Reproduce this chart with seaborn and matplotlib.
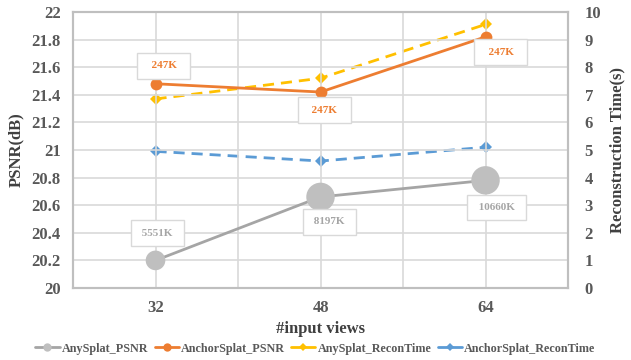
import pandas as pd
import numpy as np
import matplotlib
matplotlib.use("Agg")
import matplotlib.pyplot as plt
from matplotlib.lines import Line2D
import seaborn as sns

# Data
views = ["32", "48", "64"]
anysplat_psnr = [20.20, 20.66, 20.78]
anchorsplat_psnr = [21.48, 21.42, 21.82]
anysplat_time = [6.85, 7.6, 9.55]
anchorsplat_time = [4.95, 4.6, 5.1]
anysplat_gauss = ["5551K", "8197K", "10660K"]
anchorsplat_gauss = ["247K", "247K", "247K"]

GRAY = "#A5A5A5"
ORANGE = "#ED7D31"
YELLOW = "#FFC000"
BLUE = "#5B9BD5"
TXT = "#595959"

sns.set_style("white")
plt.rcParams["font.family"] = ["Liberation Serif", "DejaVu Serif"]
plt.rcParams["font.weight"] = "bold"

df = pd.DataFrame({
    "pos": np.arange(len(views)),
    "views": views,
    "AnySplat_PSNR": anysplat_psnr,
    "AnchorSplat_PSNR": anchorsplat_psnr,
    "AnySplat_ReconTime": anysplat_time,
    "AnchorSplat_ReconTime": anchorsplat_time,
})

fig = plt.figure(figsize=(6.31, 3.6), dpi=100)
ax = fig.add_axes([0.1157, 0.2, 0.7845, 0.7667])
ax2 = ax.twinx()

# right axis (recon time) drawn first, beneath the PSNR lines
sns.lineplot(data=df, x="pos", y="AnySplat_ReconTime", ax=ax2, color=YELLOW,
             lw=2, marker="D", markersize=6, markeredgewidth=0,
             linestyle=(0, (4, 2.5)))
sns.lineplot(data=df, x="pos", y="AnchorSplat_ReconTime", ax=ax2, color=BLUE,
             lw=2, marker="D", markersize=6, markeredgewidth=0,
             linestyle=(0, (4, 2.5)))
ax2.set_ylim(0, 10)
ax2.set_yticks(range(0, 11))
ax2.set_ylabel("Reconstruction Time(s)", fontsize=12, fontweight="bold",
               color="#404040", labelpad=6)
ax2.tick_params(axis="y", labelsize=12, colors=TXT, length=0, pad=12)
for lab in ax2.get_yticklabels():
    lab.set_fontweight("bold")

# left axis (PSNR) on top
ax.set_zorder(ax2.get_zorder() + 1)
ax.patch.set_visible(False)
sns.lineplot(data=df, x="pos", y="AnySplat_PSNR", ax=ax, color=GRAY, lw=2)
sns.scatterplot(data=df, x="pos", y="AnySplat_PSNR", ax=ax, color="#BFBFBF",
                s=[200, 420, 420], linewidth=0, zorder=5)
sns.lineplot(data=df, x="pos", y="AnchorSplat_PSNR", ax=ax, color=ORANGE, lw=2,
             marker="o", markersize=8.5, markeredgewidth=0)

ax.set_xlim(-0.5, 2.5)
ax.set_ylim(20, 22)
ticks = np.round(np.arange(20, 22.01, 0.2), 1)
ax.set_yticks(ticks)
ax.set_yticklabels([f"{v:g}" for v in ticks])
ax.set_xticks(range(len(views)))
ax.set_xticklabels(views)
ax.set_xticks(np.arange(-0.5, 2.51, 0.5), minor=True)
ax.grid(True, which="both", axis="x", color="#D9D9D9", lw=1.2)
ax.grid(True, axis="y", color="#D9D9D9", lw=1.2)
ax2.grid(False)
ax.set_axisbelow(True)
ax.tick_params(axis="both", which="both", length=0, labelsize=12, colors=TXT)
ax.tick_params(axis="y", pad=9)
ax.tick_params(axis="x", pad=9)
for lab in ax.get_xticklabels() + ax.get_yticklabels():
    lab.set_fontweight("bold")
ax.set_xlabel("#input views", fontsize=12, fontweight="bold", color="#404040",
              labelpad=3)
ax.set_ylabel("PSNR(dB)", fontsize=12, fontweight="bold", color="#404040",
              labelpad=5)

for a in (ax, ax2):
    for sp in a.spines.values():
        sp.set_color("#BFBFBF")
        sp.set_linewidth(1.5)

# data labels (gaussian counts), padded so boxes are wider than tall
box = dict(boxstyle="square,pad=0.75", fc="white", ec="#D9D9D9", lw=1)
anchor_off = [(6, 13), (3, -13), (11, -11)]
for i, (lab, off) in enumerate(zip(anchorsplat_gauss, anchor_off)):
    ax.annotate(f"  {lab}  ", (i, anchorsplat_psnr[i]), xytext=off,
                textcoords="offset points", ha="center", va="center",
                fontsize=8, fontweight="bold", color=ORANGE, bbox=box,
                zorder=6)
any_off = [(1.5, 19.5), (6.5, -18), (8, -19.5)]
for i, (lab, off) in enumerate(zip(anysplat_gauss, any_off)):
    ax.annotate(f" {lab} ", (i, anysplat_psnr[i]), xytext=off,
                textcoords="offset points", ha="center", va="center",
                fontsize=8, fontweight="bold", color=GRAY, bbox=box,
                zorder=6)

handles = [
    Line2D([], [], color=GRAY, lw=2, marker="o", markersize=6,
           markerfacecolor="#BFBFBF", markeredgewidth=0),
    Line2D([], [], color=ORANGE, lw=2, marker="o", markersize=6,
           markeredgewidth=0),
    Line2D([], [], color=YELLOW, lw=2, marker="D", markersize=4,
           markeredgewidth=0),
    Line2D([], [], color=BLUE, lw=2, marker="D", markersize=4,
           markeredgewidth=0),
]
labels = ["AnySplat_PSNR", "AnchorSplat_PSNR", "AnySplat_ReconTime",
          "AnchorSplat_ReconTime"]
fig.legend(handles, labels, loc="lower center", bbox_to_anchor=(0.5, -0.015),
           ncol=4, frameon=False, handlelength=2.0,
           handletextpad=0.2, columnspacing=0.5, labelcolor=TXT,
           prop={"weight": "bold", "size": 8.7})

fig.savefig("out.png", dpi=100)
